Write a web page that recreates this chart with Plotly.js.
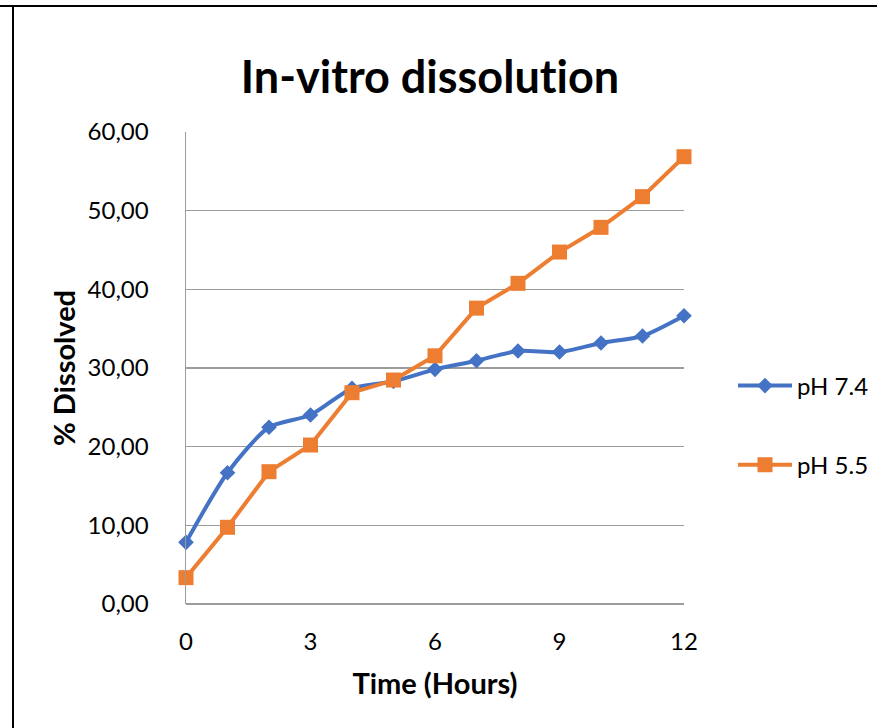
<!DOCTYPE html>
<html>
<head>
<meta charset="utf-8">
<script src="https://cdn.plot.ly/plotly-3.0.1.min.js"></script>
<style>
  html, body { margin: 0; padding: 0; background: #ffffff; }
  #chart { width: 877px; height: 728px; }
  #chart text { font-variant-ligatures: none !important; font-feature-settings: "liga" 0, "clig" 0 !important; }
</style>
</head>
<body>
<div id="chart"></div>
<script>
// Sampling times (hours)
const timeHours = [0, 1, 2, 3, 4, 5, 6, 7, 8, 9, 10, 11, 12];

// Cumulative % dissolved in each medium
const dissolvedPH74 = [7.84, 16.69, 22.46, 24.02, 27.42, 28.30, 29.83, 30.93, 32.16, 32.03, 33.18, 34.07, 36.65];
const dissolvedPH55 = [3.35, 9.75, 16.82, 20.21, 26.86, 28.47, 31.55, 37.61, 40.76, 44.74, 47.88, 51.78, 56.86];

const seriesNames = ['pH 7.4', 'pH 5.5'];

// Axis ticks
const xTickVals = [0, 3, 6, 9, 12];
const yTickVals = [0, 10, 20, 30, 40, 50, 60];

const FONT = 'Lato, "Open Sans", sans-serif';
const BLUE = '#4472C4';
const ORANGE = '#ED7D31';
const GRID = '#9C9C9C';

// plot-area geometry in pixels, used to place the outer frame lines
const M = { l: 186, r: 193, t: 132, b: 124, autoexpand: false };
const W = 877, H = 728;
const PW = W - M.l - M.r, PH = H - M.t - M.b;
const px = v => (v - M.l) / PW;
const py = v => (H - M.b - v) / PH;

const traces = [
  {
    x: timeHours, y: dissolvedPH74, name: seriesNames[0],
    type: 'scatter', mode: 'lines+markers', legendgroup: 'a',
    line: { color: BLUE, width: 4, shape: 'spline', smoothing: 0.7 },
    marker: { symbol: 'diamond', size: 12, color: BLUE },
    cliponaxis: false
  },
  {
    x: timeHours, y: dissolvedPH55, name: seriesNames[1],
    type: 'scatter', mode: 'lines+markers', legendgroup: 'b',
    line: { color: ORANGE, width: 4 },
    marker: { symbol: 'square', size: 15, color: ORANGE },
    cliponaxis: false
  }
];

const layout = {
  width: W, height: H,
  margin: M,
  paper_bgcolor: '#ffffff', plot_bgcolor: '#ffffff',
  separators: ',.',
  font: { family: FONT, color: '#000000', size: 24 },
  title: {
    // zero-width non-joiner keeps the "t" and "i" as separate glyphs
    text: '<b>In-vitro dissolu\u200Ction</b>',
    font: { family: FONT, size: 45, color: '#000000' },
    xref: 'paper', x: px(430), xanchor: 'center',
    yref: 'container', y: 1 - 77 / H, yanchor: 'middle'
  },
  xaxis: {
    range: [0, 12], tickvals: xTickVals,
    showgrid: false, zeroline: false, showline: false,
    ticks: '', ticklabelstandoff: 21,
    tickfont: { family: FONT, size: 24, color: '#000000' },
    title: { text: '<b>Time (Hours)</b>', font: { family: FONT, size: 29, color: '#000000' }, standoff: 19 },
    fixedrange: true
  },
  yaxis: {
    range: [0, 60], tickvals: yTickVals, tickformat: '.2f',
    showgrid: true, gridcolor: GRID, gridwidth: 1.5,
    zeroline: true, zerolinecolor: GRID, zerolinewidth: 1.5,
    showline: true, linecolor: GRID, linewidth: 1.5,
    ticks: '', ticklabelstandoff: 31,
    tickfont: { family: FONT, size: 24, color: '#000000' },
    title: { text: '<b>% Dissolved</b>', font: { family: FONT, size: 29, color: '#000000' }, standoff: 3 },
    fixedrange: true
  },
  showlegend: true,
  legend: {
    x: px(733), xanchor: 'left',
    y: py(425.5), yanchor: 'middle',
    font: { family: FONT, size: 24, color: '#000000' },
    tracegroupgap: 45, itemwidth: 54,
    bgcolor: 'rgba(0,0,0,0)'
  },
  shapes: [
    { type: 'line', xref: 'paper', yref: 'paper', x0: px(0), x1: px(W), y0: py(6), y1: py(6),
      line: { color: '#000000', width: 2 } },
    { type: 'line', xref: 'paper', yref: 'paper', x0: px(13), x1: px(13), y0: py(6), y1: py(H),
      line: { color: '#000000', width: 2 } }
  ]
};

Plotly.newPlot('chart', traces, layout, { displayModeBar: false, staticPlot: true });
</script>
</body>
</html>
